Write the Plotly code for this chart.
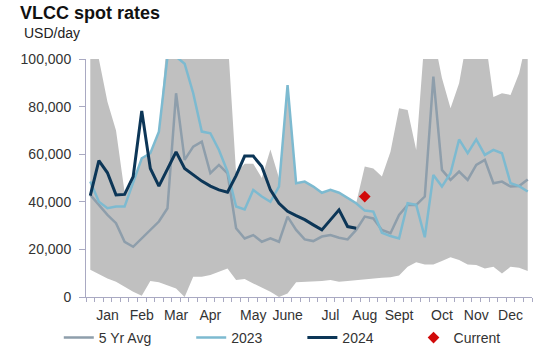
import plotly.graph_objects as go

weeks = list(range(52))
month_pos = [2, 6, 10, 14, 19, 23, 28, 32, 36, 41, 45, 49]
month_labels = ["Jan", "Feb", "Mar", "Apr", "May", "June", "Jul", "Aug", "Sept", "Oct", "Nov", "Dec"]

band_low = [11500, 9600, 7800, 6400, 4300, 2200, 500, 6700, 6200, 5000, 3600, 0, 8500, 8500, 9200, 10600,
            12000, 7100, 7600, 5700, 3900, 2200, 0, 1500, 6200, 6300, 6400, 6700, 7100, 6400, 6700, 7100,
            7600, 7800, 8100, 8300, 9000, 12700, 14600, 13700, 13700, 15100, 16700, 15500, 13700, 13400,
            12000, 12700, 9900, 12700, 12300, 10900]
band_high = [110000, 100000, 82000, 70000, 44000, 48000, 58300, 60400, 69500, 110000, 110000, 110000, 110000,
             110000, 110000, 110000, 110000, 52000, 56000, 56000, 50000, 62000, 50000, 89000, 47800, 48500,
             46400, 43800, 45000, 43800, 41500, 39400, 54800, 54000, 50600, 61000, 79300, 78600, 61800,
             110000, 110000, 92000, 79300, 89800, 110000, 110000, 110000, 84000, 85600, 84900, 94000, 110000]
avg5 = [42900, 38700, 34500, 31000, 23200, 21100, 24600, 28200, 31700, 37300, 85600, 57600, 63200, 65300,
        52000, 55500, 52000, 28900, 24600, 26000, 23200, 24600, 23200, 33800, 28200, 24200, 23500, 25400,
        26000, 24900, 24200, 28200, 33800, 33000, 28200, 26800, 34500, 38700, 38700, 42200, 92600, 53400,
        49200, 52700, 49200, 55500, 57600, 47800, 48500, 46400, 46600, 49400]
y2023 = [48500, 40000, 37300, 38000, 38000, 47800, 58300, 60400, 69500, 101000, 101000, 98000, 85600, 69500,
         68800, 61800, 52700, 38000, 36800, 45000, 42200, 40000, 46400, 89000, 47800, 48500, 46400, 43800,
         45000, 43800, 41500, 39400, 36300, 35900, 27000, 25600, 24600, 39400, 38700, 25100, 51300, 46400,
         52000, 66200, 60400, 66200, 59700, 61800, 60400, 47800, 46600, 44300]
y2024 = [42600, 57300, 52200, 42900, 43100, 50600, 78200, 54000, 46600, 54000, 61000, 54000, 51300, 48700,
         46600, 45000, 44000, 51000, 59200, 59200, 54800, 45000, 39400, 36000, 34200, 32500, 30300, 28200,
         32400, 36600, 29600, 28900]
current_week = [32]
current_val = [42200]

FONT = "Liberation Sans, Arial, sans-serif"
AXIS = "#a9a9c2"
pad = "\u00a0" * 9

fig = go.Figure()
fig.add_trace(go.Scatter(x=weeks, y=band_low, mode="lines", line=dict(width=0, color="#c0c0c0"),
                         showlegend=False, hoverinfo="skip"))
fig.add_trace(go.Scatter(x=weeks, y=band_high, mode="lines", line=dict(width=0, color="#c0c0c0"),
                         fill="tonexty", fillcolor="#c0c0c0", showlegend=False, hoverinfo="skip"))
fig.add_trace(go.Scatter(x=weeks, y=avg5, mode="lines", name="5 Yr Avg" + pad,
                         line=dict(color="#8e9eab", width=2.5)))
fig.add_trace(go.Scatter(x=weeks, y=y2023, mode="lines", name="2023" + pad,
                         line=dict(color="#7dbad0", width=2.5)))
fig.add_trace(go.Scatter(x=weeks[:len(y2024)], y=y2024, mode="lines", name="2024" + pad,
                         line=dict(color="#0c3657", width=3)))
fig.add_trace(go.Scatter(x=current_week, y=current_val, mode="markers", name="Current",
                         marker=dict(symbol="diamond", color="#d10a0a", size=9)))

fig.update_layout(
    width=550, height=350, autosize=False,
    margin=dict(l=86, r=18, t=59, b=53, autoexpand=False),
    paper_bgcolor="white", plot_bgcolor="white",
    font=dict(family=FONT, size=14, color="#333333"),
    title=dict(text="<b>VLCC spot rates</b>", x=20 / 550, xanchor="left", y=1 - 13 / 350, yanchor="middle",
               font=dict(size=18, color="#111111", family=FONT)),
    showlegend=True,
    legend=dict(orientation="h", traceorder="normal", x=-0.061, xanchor="left", y=-0.172, yanchor="middle",
                font=dict(size=14, color="#333333"), bgcolor="rgba(0,0,0,0)"),
    xaxis=dict(range=[-0.5, 51.5], tickmode="array", tickvals=month_pos, ticktext=month_labels,
               ticks="", showline=True, linecolor=AXIS, linewidth=1, showgrid=False, zeroline=False,
               ticklabelstandoff=5, automargin=False,
               minor=dict(ticks="outside", tick0=-0.5, dtick=1, ticklen=4, tickcolor=AXIS, showgrid=False)),
    yaxis=dict(range=[0, 100000], tickmode="array", tickvals=[0, 20000, 40000, 60000, 80000, 100000],
               tickformat=",", ticks="outside", ticklen=6, tickcolor=AXIS, showline=True, linecolor=AXIS,
               linewidth=1, showgrid=False, zeroline=False, ticklabelstandoff=5, automargin=False),
)
fig.add_annotation(text="USD/day", xref="paper", yref="paper", x=(22 - 86) / 446, y=(297 - 33) / 238,
                   xanchor="left", yanchor="middle", showarrow=False, font=dict(size=14, color="#222222"))

fig.write_html("out.html")
